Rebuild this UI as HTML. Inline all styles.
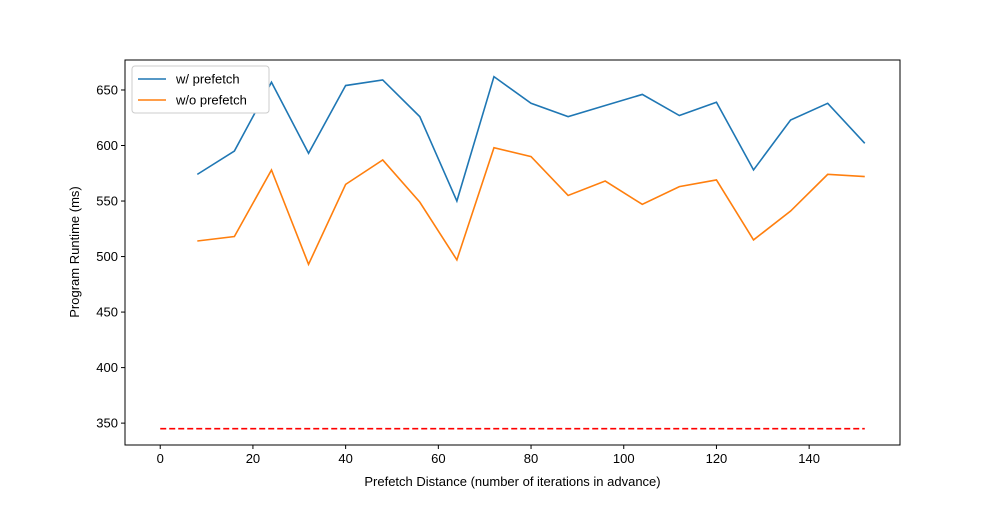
<!DOCTYPE html>
<html><head><meta charset="utf-8"><style>
body{margin:0;background:#fff;}
svg text{font-family:"Liberation Sans","DejaVu Sans",sans-serif;font-size:13px;fill:#000;}
</style></head><body>
<svg id="chart" width="1000" height="500" xmlns="http://www.w3.org/2000/svg"></svg>
<script>
const distances=[8,16,24,32,40,48,56,64,72,80,88,96,104,112,120,128,136,144,152];
const withPrefetch=[574,595,657,593,654,659,626,550,662,638,626,636,646,627,639,578,623,638,602];
const withoutPrefetch=[514,518,578,493,565,587,549,497,598,590,555,568,547,563,569,515,541,574,572];
const baseline=[345,345];
const baselineX=[0,152];
const xTicks=[0,20,40,60,80,100,120,140];
const yTicks=[350,400,450,500,550,600,650];

const L=125,R=900,T=60,B=445;
const xMin=-7.6,xMax=159.6,yMin=330.3,yMax=677;
const xs=v=>L+(v-xMin)/(xMax-xMin)*(R-L);
const ys=v=>B-(v-yMin)/(yMax-yMin)*(B-T);
const svg=document.getElementById('chart');
const NS='http://www.w3.org/2000/svg';
function mk(tag,attrs,parent){const e=document.createElementNS(NS,tag);for(const k in attrs)e.setAttribute(k,attrs[k]);(parent||svg).appendChild(e);return e;}

xTicks.forEach(t=>{
  const g=mk('g',{});
  
  
  mk('line',{x1:xs(t),x2:xs(t),y1:B,y2:B+4,stroke:'#000'},g);
  const tx=mk('text',{x:xs(t),y:B+18,'text-anchor':'middle'},g);tx.textContent=t;
});
yTicks.forEach(t=>{
  const g=mk('g',{});
  
  
  mk('line',{x1:L-4,x2:L,y1:ys(t),y2:ys(t),stroke:'#000'},g);
  const tx=mk('text',{x:L-7,y:ys(t)+4.5,'text-anchor':'end'},g);tx.textContent=t;
});

function line(xv,yv,color,name,dash){
  const p=mk('polyline',{points:xv.map((x,i)=>xs(x)+','+ys(yv[i])).join(' '),fill:'none',stroke:color,'stroke-width':1.6});
  if(dash)p.setAttribute('stroke-dasharray',dash);
  
  
}
line(distances,withPrefetch,'#1f77b4','series-with-prefetch');
line(distances,withoutPrefetch,'#ff7f0e','series-without-prefetch');
line(baselineX,baseline,'#ff0000','baseline-dashed','6,3');

const frame=mk('rect',{x:L,y:T,width:R-L,height:B-T,fill:'none',stroke:'#000','stroke-width':1});



const xt=mk('text',{x:(L+R)/2,y:486,'text-anchor':'middle'});xt.textContent='Prefetch Distance (number of iterations in advance)';


const yt=mk('text',{x:0,y:0,'text-anchor':'middle',transform:'translate(79,252) rotate(-90)'});yt.textContent='Program Runtime (ms)';



const lg=mk('g',{});


mk('rect',{x:132,y:66,width:137,height:47,rx:3,fill:'#fff',stroke:'#ccc'},lg);
[['w/ prefetch','#1f77b4',79],['w/o prefetch','#ff7f0e',100]].forEach(([t,c,y])=>{
  const g=mk('g',{},lg);
  
  
  mk('line',{x1:138,x2:166,y1:y,y2:y,stroke:c,'stroke-width':1.6},g);
  const tx=mk('text',{x:176,y:y+4.5},g);tx.textContent=t;
});
</script>
</body></html>
